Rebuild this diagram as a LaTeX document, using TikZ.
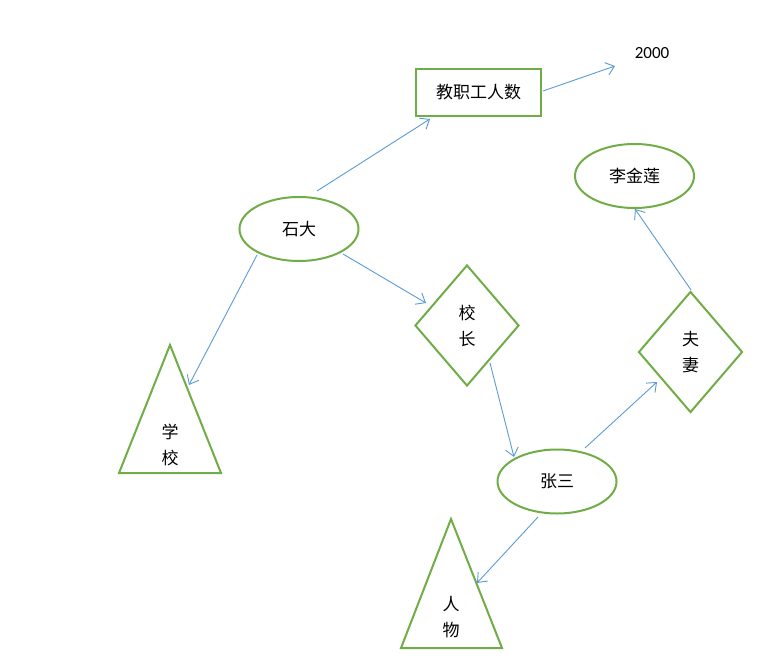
\documentclass[tikz,border=0pt]{standalone}
\usepackage{fontspec}
\newfontfamily\cjk{Noto Sans CJK SC}
\newfontfamily\numfont{Carlito}
\usetikzlibrary{arrows.meta,calc,shapes.geometric}
\definecolor{grn}{HTML}{70AD47}
\definecolor{blu}{HTML}{5B9BD5}
\tikzset{
  shp/.style={draw=grn, line width=2pt, inner sep=0pt, align=center,
    font=\cjk\fontsize{17}{26}\selectfont},
  boxn/.style={shp, rectangle, minimum width=125pt, minimum height=47pt},
  ell/.style={shp, ellipse, minimum width=119pt, minimum height=64pt},
  dia/.style={shp, diamond, minimum width=104pt, minimum height=121pt},
  trilbl/.style={inner sep=0pt, align=center, font=\cjk\fontsize{17}{26}\selectfont},
  tri/.style={draw=grn, line width=2pt, line join=miter},
  arr/.style={draw=blu, line width=0.9pt, -{Straight Barb[length=8pt,width=13pt,line width=0.9pt]}},
}
\begin{document}
\begin{tikzpicture}[x=1pt,y=-1pt]
\useasboundingbox[fill=white] (0,0) rectangle (773,668);
% nodes
\node[boxn] (jzg) at (478.5,92.5) {教职工人数};
\node[inner sep=0pt, font=\numfont\fontsize{17}{20}\selectfont] (num) at (652,53) {2000};
\node[ell] (shida) at (299,229) {石大};
\node[ell] (lijl) at (634.5,176) {李金莲};
\node[ell] (zs) at (557,481.5) {张三};
\node[dia] (xz) at (467,325.5) {校\\长};
\node[dia] (fq) at (690.5,352) {夫\\妻};
% triangles
\coordinate (xxapex) at (170,345);
\draw[tri] (xxapex) -- (221,473) -- (119,473) -- cycle;
\node[trilbl] (xx) at (170,445) {学\\校};
\coordinate (rwapex) at (451,519);
\draw[tri] (rwapex) -- (502,648) -- (401,648) -- cycle;
\node[trilbl] (rw) at (451,617.5) {人\\物};
% connectors
\draw[arr] ($(shida)+(18,-38)$) -- ($(jzg)+(-48.5,26.5)$);
\draw[arr] ($(jzg)+(64.5,-1.5)$) -- ($(num)+(-37,13)$);
\draw[arr] ($(shida)+(44,25)$) -- ($(xz)+(-41,-22.5)$);
\draw[arr] ($(shida)+(-42,26)$) -- ($(xx)+(19,-60)$);
\draw[arr] ($(xz)+(23,37.5)$) -- ($(zs)+(-43,-24.5)$);
\draw[arr] ($(zs)+(-19,35.5)$) -- ($(rw)+(26,-34.5)$);
\draw[arr] ($(zs)+(28,-33.5)$) -- ($(fq)+(-33.5,30)$);
\draw[arr] ($(fq)+(0.5,-62)$) -- ($(lijl)+(0.5,33)$);
\end{tikzpicture}
\end{document}
